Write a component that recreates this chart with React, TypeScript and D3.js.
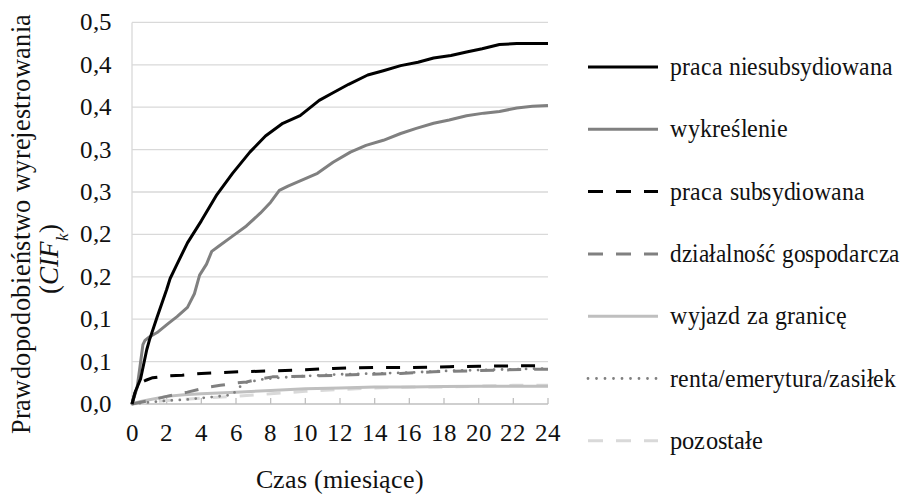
import React, { useEffect, useState } from 'react';
import * as d3 from 'd3';

// Series names (legend order)
const seriesNames = [
  'praca niesubsydiowana',
  'wykreślenie',
  'praca subsydiowana',
  'działalność gospodarcza',
  'wyjazd za granicę',
  'renta/emerytura/zasiłek',
  'pozostałe',
];

// Months and CIF values, one list per series
const pracaNiesubsMonths = [0, 0.2, 0.5, 0.85, 1, 1.44, 2, 2.2, 2.6, 3.2, 4, 4.9, 5.8, 6.8, 7.7, 8.7, 9.7, 10.8, 11.6, 12.5, 13.6, 14.5, 15.5, 16.5, 17.4, 18.4, 19.3, 20.2, 21.2, 22.2, 23.1, 24];
const pracaNiesubsValues = [0, 0.015, 0.03, 0.064, 0.075, 0.102, 0.135, 0.148, 0.165, 0.19, 0.216, 0.247, 0.272, 0.297, 0.316, 0.331, 0.34, 0.358, 0.367, 0.377, 0.388, 0.393, 0.399, 0.403, 0.408, 0.411, 0.415, 0.419, 0.424, 0.425, 0.425, 0.425];

const wykreslenieMonths = [0, 0.3, 0.46, 0.63, 0.75, 1, 1.5, 2.1, 2.6, 3.2, 3.6, 3.9, 4.3, 4.6, 5, 5.8, 6.6, 7.4, 8, 8.5, 9, 9.7, 10.7, 11.6, 12.6, 13.5, 14.5, 15.5, 16.4, 17.4, 18.3, 19.3, 20.3, 21.2, 22.2, 23.1, 24];
const wykreslenieValues = [0, 0.02, 0.044, 0.07, 0.075, 0.079, 0.085, 0.095, 0.103, 0.114, 0.13, 0.152, 0.165, 0.18, 0.186, 0.198, 0.21, 0.225, 0.238, 0.252, 0.257, 0.263, 0.272, 0.285, 0.297, 0.305, 0.311, 0.319, 0.325, 0.331, 0.335, 0.34, 0.343, 0.345, 0.349, 0.351, 0.352];

const pracaSubsMonths = [0, 0.15, 0.3, 0.5, 0.8, 1.2, 2, 2.9, 4, 5, 6.2, 8, 9.7, 11.6, 14, 16, 18.3, 20, 22, 24];
const pracaSubsValues = [0, 0.012, 0.02, 0.025, 0.028, 0.031, 0.033, 0.034, 0.036, 0.037, 0.038, 0.039, 0.04, 0.042, 0.043, 0.043, 0.044, 0.0445, 0.045, 0.045];

const dzialalnoscMonths = [0, 1, 2, 3.2, 4.4, 5.1, 6.1, 6.6, 7.5, 8.1, 10.3, 12, 13.6, 15.5, 17.4, 19.3, 21.2, 23.1, 24];
const dzialalnoscValues = [0, 0.004, 0.009, 0.014, 0.02, 0.022, 0.025, 0.026, 0.03, 0.032, 0.033, 0.034, 0.035, 0.036, 0.038, 0.039, 0.04, 0.041, 0.041];

const wyjazdMonths = [0, 0.5, 1, 2, 3, 4, 5, 6, 8, 10, 12, 14, 16, 18, 20, 22, 24];
const wyjazdValues = [0, 0.003, 0.005, 0.009, 0.011, 0.012, 0.013, 0.014, 0.016, 0.018, 0.019, 0.02, 0.02, 0.0205, 0.021, 0.021, 0.021];

const rentaMonths = [0, 1, 2, 3, 4, 5, 5.8, 6.1, 6.5, 7.5, 8.5, 10, 12, 14, 16, 18, 20, 22, 24];
const rentaValues = [0, 0.002, 0.004, 0.005, 0.007, 0.009, 0.011, 0.018, 0.025, 0.029, 0.031, 0.033, 0.035, 0.036, 0.037, 0.039, 0.04, 0.041, 0.042];

const pozostaleMonths = [0, 1, 2, 4, 6, 8, 10, 12, 14, 16, 18, 20, 22, 24];
const pozostaleValues = [0, 0.002, 0.004, 0.007, 0.009, 0.012, 0.015, 0.017, 0.019, 0.02, 0.02, 0.021, 0.022, 0.022];

// Axis ticks
const xTicks = [0, 2, 4, 6, 8, 10, 12, 14, 16, 18, 20, 22, 24];
const yTicks = [0, 0.05, 0.1, 0.15, 0.2, 0.25, 0.3, 0.35, 0.4, 0.45];
const yTickLabels = ['0,0', '0,1', '0,1', '0,2', '0,2', '0,3', '0,3', '0,4', '0,4', '0,5'];

// Line styles in legend order
const lineStyles = [
  { color: '#000000', dash: null, width: 3, cap: 'butt' },
  { color: '#808080', dash: null, width: 3, cap: 'butt' },
  { color: '#000000', dash: '14,13', width: 3, cap: 'butt' },
  { color: '#808080', dash: '14,13', width: 3, cap: 'butt' },
  { color: '#bfbfbf', dash: null, width: 3, cap: 'butt' },
  { color: '#808080', dash: '0,8', width: 2.8, cap: 'round' },
  { color: '#d9d9d9', dash: '14,13', width: 3, cap: 'butt' },
];

// widths the legend labels take in the reference (keeps them inside the frame)
const legendTextWidths = [223, 118, 195, 230, 177, 226, 93];

const seriesData = [
  [pracaNiesubsMonths, pracaNiesubsValues],
  [wykreslenieMonths, wykreslenieValues],
  [pracaSubsMonths, pracaSubsValues],
  [dzialalnoscMonths, dzialalnoscValues],
  [wyjazdMonths, wyjazdValues],
  [rentaMonths, rentaValues],
  [pozostaleMonths, pozostaleValues],
];

const SERIF = 'RefSerif, "Liberation Serif", "Times New Roman", Tinos, serif';
const fontCss = `@font-face { font-family: 'RefSerif'; src: local('Liberation Serif'), local('LiberationSerif'), local('Liberation Serif Regular'), local('LiberationSerif-Regular'); font-style: normal; }
@font-face { font-family: 'RefSerif'; src: local('Liberation Serif Italic'), local('LiberationSerif-Italic'); font-style: italic; }`;

export default function App() {
  const [, setReady] = useState(false);

  // nudge a re-render once the serif face is there
  useEffect(() => {
    if (document.fonts && document.fonts.load) {
      Promise.all([
        document.fonts.load('26px RefSerif'),
        document.fonts.load('26px "Liberation Serif"'),
      ])
        .then(() => setReady(true))
        .catch(() => {});
    }
  }, []);

  const width = 913;
  const height = 495;
  const plot = { left: 132, right: 548, top: 22.4, bottom: 404 };

  const x = d3.scaleLinear().domain([0, 24]).range([plot.left, plot.right]);
  const y = d3.scaleLinear().domain([0, 0.45]).range([plot.bottom, plot.top]);

  const line = d3
    .line<[number, number]>()
    .x((d) => x(d[0]))
    .y((d) => y(d[1]));

  // light series first so the dark lines sit on top
  const drawOrder = [6, 4, 5, 3, 2, 1, 0];

  return (
    <svg width={width} height={height} style={{ position: 'absolute', left: 0, top: 0 }}>
      <style>{fontCss}</style>
      <rect width={width} height={height} fill="#fff" />

      {/* gridlines */}
      {yTicks.slice(1).map((t) => (
        <line key={t} x1={plot.left} x2={plot.right} y1={y(t)} y2={y(t)} stroke="#d9d9d9" strokeWidth={1.3} />
      ))}
      <line x1={plot.left} x2={plot.left} y1={plot.top} y2={plot.bottom} stroke="#d9d9d9" strokeWidth={1.3} />

      {/* x axis */}
      <line x1={plot.left} x2={plot.right} y1={plot.bottom} y2={plot.bottom} stroke="#bfbfbf" strokeWidth={1.3} />
      {xTicks.map((t) => (
        <line key={t} x1={x(t)} x2={x(t)} y1={plot.bottom} y2={plot.bottom - 6} stroke="#bfbfbf" strokeWidth={1.3} />
      ))}
      {xTicks.map((t) => (
        <text key={t} x={x(t)} y={plot.bottom + 37} fontFamily={SERIF} fontSize={25} textAnchor="middle" fill="#111">
          {t}
        </text>
      ))}

      {/* y tick labels */}
      {yTicks.map((t, i) => (
        <text key={t} x={112} y={y(t) + 8} fontFamily={SERIF} fontSize={25} textAnchor="end" fill="#111">
          {yTickLabels[i]}
        </text>
      ))}

      {/* series */}
      {drawOrder.map((i) => {
        const [months, values] = seriesData[i];
        const pts = months.map((m, j) => [m, values[j]] as [number, number]);
        const s = lineStyles[i];
        return (
          <path
            key={seriesNames[i]}
            d={line(pts) || ''}
            fill="none"
            stroke={s.color}
            strokeWidth={s.width}
            strokeDasharray={s.dash || undefined}
            strokeLinecap={s.cap as any}
            strokeLinejoin="round"
          />
        );
      })}

      {/* axis titles */}
      <text x={340} y={488} fontFamily={SERIF} fontSize={26} textAnchor="middle" fill="#111">
        Czas (miesiące)
      </text>
      <text
        transform="translate(30,224) rotate(-90)"
        fontFamily={SERIF}
        fontSize={27}
        textAnchor="middle"
        fill="#111"
        textLength={420}
        lengthAdjust="spacingAndGlyphs"
      >
        Prawdopodobieństwo wyrejestrowania
      </text>
      <text transform="translate(58,259) rotate(-90)" fontFamily={SERIF} fontSize={27} textAnchor="middle" fill="#111">
        (<tspan fontStyle="italic">CIF</tspan>
        <tspan fontStyle="italic" fontSize={17} baselineShift="sub">k</tspan>)
      </text>

      {/* legend */}
      {seriesNames.map((name, i) => {
        const ly = 67 + i * 62.3;
        const s = lineStyles[i];
        return (
          <g key={name}>
            <line
              x1={588}
              x2={658}
              y1={ly}
              y2={ly}
              stroke={s.color}
              strokeWidth={s.width}
              strokeDasharray={s.dash ? (s.cap === 'round' ? '0,8.5' : '15,13') : undefined}
              strokeLinecap={s.cap as any}
            />
            <text
              x={670}
              y={ly + 8}
              fontFamily={SERIF}
              fontSize={26}
              fill="#111"
              textLength={legendTextWidths[i]}
              lengthAdjust="spacingAndGlyphs"
            >
              {name}
            </text>
          </g>
        );
      })}
    </svg>
  );
}
